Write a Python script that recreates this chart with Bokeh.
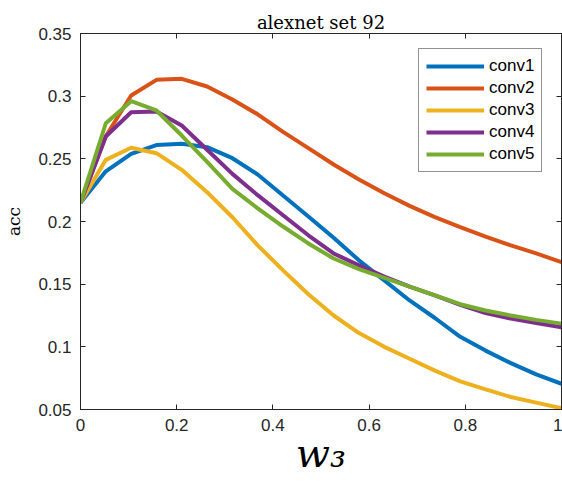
from bokeh.plotting import figure
from bokeh.models import (Range1d, FixedTicker, LinearAxis, Legend, LegendItem,
                          CustomLabelingPolicy)
from bokeh.embed import file_html
from bokeh.resources import INLINE

w3 = [0.0, 0.0526, 0.1053, 0.1579, 0.2105, 0.2632, 0.3158, 0.3684, 0.4211, 0.4737,
      0.5263, 0.5789, 0.6316, 0.6842, 0.7368, 0.7895, 0.8421, 0.8947, 0.9474, 1.0]

conv1 = [0.215, 0.240, 0.254, 0.261, 0.262, 0.2593, 0.2505, 0.2375, 0.2207, 0.204,
         0.187, 0.169, 0.153, 0.137, 0.123, 0.108, 0.097, 0.087, 0.078, 0.0705]
conv2 = [0.215, 0.268, 0.3005, 0.313, 0.3138, 0.3077, 0.2973, 0.2855, 0.2715, 0.2585,
         0.2455, 0.2335, 0.2225, 0.2125, 0.2035, 0.1955, 0.188, 0.181, 0.1745, 0.1675]
conv3 = [0.215, 0.2492, 0.2588, 0.2545, 0.2412, 0.2234, 0.2034, 0.181, 0.161, 0.142,
         0.125, 0.111, 0.100, 0.0905, 0.081, 0.0725, 0.066, 0.060, 0.0555, 0.051]
conv4 = [0.215, 0.2678, 0.2872, 0.2878, 0.2766, 0.2572, 0.238, 0.221, 0.205, 0.189,
         0.1745, 0.165, 0.156, 0.148, 0.141, 0.1335, 0.127, 0.1225, 0.119, 0.1157]
conv5 = [0.215, 0.2784, 0.296, 0.2886, 0.2686, 0.2475, 0.226, 0.2105, 0.196, 0.1825,
         0.1705, 0.162, 0.155, 0.148, 0.141, 0.134, 0.129, 0.125, 0.1215, 0.1185]

series_names = ["conv1", "conv2", "conv3", "conv4", "conv5"]
series_values = [conv1, conv2, conv3, conv4, conv5]
colors = ["#0072BD", "#D95319", "#EDB120", "#7E2F8E", "#77AC30"]

x_ticks = [0, 0.2, 0.4, 0.6, 0.8, 1.0]
x_tick_labels = ["0", "0.2", "0.4", "0.6", "0.8", "1"]
y_ticks = [0.05, 0.1, 0.15, 0.2, 0.25, 0.3, 0.35]
y_tick_labels = ["0.05", "0.1", "0.15", "0.2", "0.25", "0.3", "0.35"]

title_text = "alexnet set 92"
x_label = "w\u2083"
y_label = "acc"

AX = "#262626"

p = figure(width=562, height=483, output_backend="svg", toolbar_location=None,
           x_range=Range1d(0, 1), y_range=Range1d(0.05, 0.35),
           min_border_left=80, min_border_right=1, min_border_top=33, min_border_bottom=74)
p.background_fill_color = "white"
p.border_fill_color = "white"
p.grid.visible = False
p.outline_line_color = AX
p.outline_line_width = 1

p.title.text = title_text
p.title.align = "center"
p.title.text_font = "DejaVu Serif"
p.title.text_font_size = "18px"
p.title.text_font_style = "normal"
p.title.text_color = "black"
p.title.standoff = 1

hide_all = CustomLabelingPolicy(code="""
const a = [...indices]
for (const i of a) indices.unset(i)
return indices
""")

def style_axis(ax, ticks, labels, show_labels=True):
    ax.ticker = FixedTicker(ticks=ticks)
    ax.minor_tick_line_color = None
    ax.major_tick_in = 5
    ax.major_tick_out = 0
    ax.axis_line_color = AX
    ax.major_tick_line_color = AX
    ax.major_label_text_color = AX
    ax.major_label_text_font = "Liberation Sans"
    if show_labels:
        ax.major_label_overrides = {t: l for t, l in zip(ticks, labels)}
        ax.major_label_text_font_size = "17px"
    else:
        ax.major_label_overrides = {t: "" for t in ticks}
        ax.major_label_text_font_size = "1px"
        ax.major_label_standoff = 0
        ax.major_label_policy = hide_all

style_axis(p.xaxis[0], x_ticks, x_tick_labels)
style_axis(p.yaxis[0], y_ticks, y_tick_labels)
p.xaxis[0].major_label_standoff = 9
p.yaxis[0].major_label_standoff = 9

p.xaxis[0].axis_label = x_label
p.xaxis[0].axis_label_text_font = "DejaVu Serif"
p.xaxis[0].axis_label_text_font_style = "italic"
p.xaxis[0].axis_label_text_font_size = "40px"
p.xaxis[0].axis_label_text_color = "black"
p.xaxis[0].axis_label_standoff = -4

p.yaxis[0].axis_label = y_label
p.yaxis[0].axis_label_text_font = "DejaVu Serif"
p.yaxis[0].axis_label_text_font_style = "normal"
p.yaxis[0].axis_label_text_font_size = "17px"
p.yaxis[0].axis_label_text_color = "black"
p.yaxis[0].axis_label_standoff = 11

top_ax = LinearAxis()
style_axis(top_ax, x_ticks, x_tick_labels, show_labels=False)
p.add_layout(top_ax, "above")
right_ax = LinearAxis()
style_axis(right_ax, y_ticks, y_tick_labels, show_labels=False)
p.add_layout(right_ax, "right")

items = []
for name, vals, c in zip(series_names, series_values, colors):
    r = p.line(w3, vals, line_color=c, line_width=4)
    items.append(LegendItem(label=name, renderers=[r]))

legend = Legend(items=items, location=(338, 237))
legend.label_text_font = "Liberation Sans"
legend.label_text_font_size = "17px"
legend.label_text_color = "black"
legend.glyph_width = 58
legend.glyph_height = 20
legend.label_height = 20
legend.label_standoff = 5
legend.spacing = 2
legend.padding = 7
legend.margin = 0
legend.border_line_color = AX
legend.border_line_width = 1
legend.background_fill_color = "white"
legend.background_fill_alpha = 1
p.add_layout(legend, "center")

open("out.html", "w").write(file_html(p, INLINE))
